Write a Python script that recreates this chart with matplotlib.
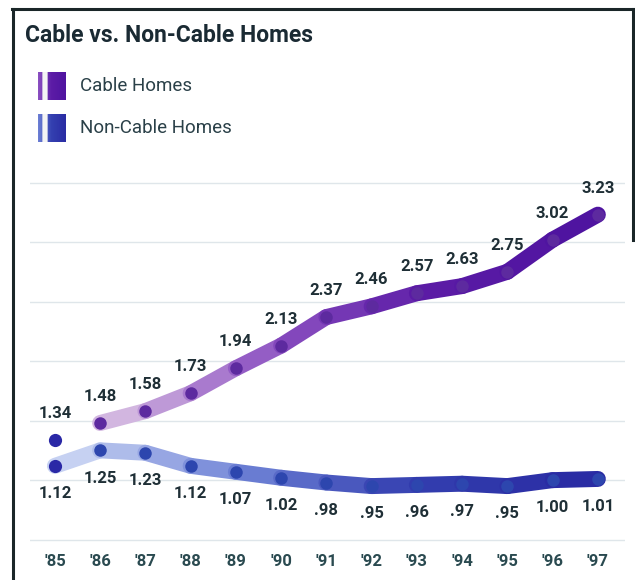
import numpy as np
import matplotlib.pyplot as plt
from matplotlib.collections import LineCollection
from matplotlib.colors import LinearSegmentedColormap
from matplotlib.lines import Line2D

years = [1985, 1986, 1987, 1988, 1989, 1990, 1991, 1992, 1993, 1994, 1995, 1996, 1997]
year_labels = ["'85", "'86", "'87", "'88", "'89", "'90", "'91", "'92", "'93", "'94", "'95", "'96", "'97"]
cable = [1.34, 1.48, 1.58, 1.73, 1.94, 2.13, 2.37, 2.46, 2.57, 2.63, 2.75, 3.02, 3.23]
non_cable = [1.12, 1.25, 1.23, 1.12, 1.07, 1.02, 0.98, 0.95, 0.96, 0.97, 0.95, 1.00, 1.01]
cable_txt = ["1.34", "1.48", "1.58", "1.73", "1.94", "2.13", "2.37", "2.46", "2.57", "2.63", "2.75", "3.02", "3.23"]
non_cable_txt = ["1.12", "1.25", "1.23", "1.12", "1.07", "1.02", ".98", ".95", ".96", ".97", ".95", "1.00", "1.01"]

FONT = ['Liberation Sans Narrow', 'Roboto', 'DejaVu Sans']
TXT = '#1f2f36'

W, H = 635, 580
fig = plt.figure(figsize=(W / 100, H / 100), dpi=100)
fig.patch.set_facecolor('white')


def px(x, y):
    # pixel (from top-left) -> figure fraction
    return x / W, 1 - y / H


# plot area
l, t = px(30, 170)
r, b = px(625, 548)
ax = fig.add_axes([l, b, r - l, t - b])
ax.set_xlim(1984.45, 1997.6)
ax.set_ylim(0.43, 3.605)
for s in ax.spines.values():
    s.set_visible(False)
ax.set_yticks([])
for g in np.arange(0.5, 3.51, 0.5):
    ax.axhline(g, color='#dfe6ea', lw=1, zorder=0)

cable_cm = LinearSegmentedColormap.from_list('c', ['#d2b6e0', '#8d52c2', '#5c1ca6', '#4f14a0'])
non_cm = LinearSegmentedColormap.from_list('n', ['#c6d1f2', '#6f82d6', '#3440b0', '#2a2ca4'])


def band(xs, ys, cmap):
    pts = np.column_stack([xs, ys])
    segs = [pts[i:i + 2] for i in range(len(pts) - 1)]
    cols = [cmap(i / max(len(segs) - 1, 1)) for i in range(len(segs))]
    lc = LineCollection(segs, colors=cols, linewidths=11.5, capstyle='round',
                        joinstyle='round', zorder=2)
    ax.add_collection(lc)


band(years[1:], cable[1:], cable_cm)
band(years, non_cable, non_cm)

ax.plot(years[1:], cable[1:], 'o', ms=9, color='#5d2a9f', mec='none', zorder=3)
ax.plot(years[1:], non_cable[1:], 'o', ms=9, color='#2d46ae', mec='none', zorder=3)
ax.plot([years[0]] * 2, [cable[0], non_cable[0]], 'o', ms=9.5, color='#2a28a6', mec='none', zorder=3)

for x, y, s in zip(years, cable, cable_txt):
    ax.annotate(s, (x, y), xytext=(0, 19), textcoords='offset points', ha='center',
                va='center', fontsize=12, fontweight='bold', color=TXT, family=FONT)
for x, y, s in zip(years, non_cable, non_cable_txt):
    ax.annotate(s, (x, y), xytext=(0, -20), textcoords='offset points', ha='center',
                va='center', fontsize=12, fontweight='bold', color=TXT, family=FONT)

ax.set_xticks(years)
ax.set_xticklabels(year_labels, fontsize=12, fontweight='bold', color='#2a4a50', family=FONT)
ax.tick_params(axis='x', length=0, pad=4)

# title and legend
fig.text(*px(25, 35), 'Cable vs. Non-Cable Homes', fontsize=16.5, fontweight='bold',
         color='#1a2a33', family=FONT, va='center', ha='left')

grad = np.linspace(0.35, 1, 64)[None, :]
for yy, cm, lab in [(86, cable_cm, 'Cable Homes'), (128, non_cm, 'Non-Cable Homes')]:
    sl, st = px(38, yy - 14)
    sr, sb = px(66, yy + 14)
    sax = fig.add_axes([sl, sb, sr - sl, st - sb])
    img = cm(np.clip(grad, 0, 1))
    img[:, 10:22, :3] = 0.96
    sax.imshow(img, aspect='auto')
    sax.axis('off')
    fig.text(*px(80, yy), lab, fontsize=13.5, color='#2a4048', family=FONT,
             va='center', ha='left')

# frame
for xs, ys in [((12, 634), (9, 9)), ((13, 13), (9, 580)), ((633, 633), (9, 240))]:
    p0 = px(xs[0], ys[0])
    p1 = px(xs[1], ys[1])
    fig.add_artist(Line2D([p0[0], p1[0]], [p0[1], p1[1]], color='#1a2628', lw=2.2))

fig.savefig('out.png', dpi=100)
